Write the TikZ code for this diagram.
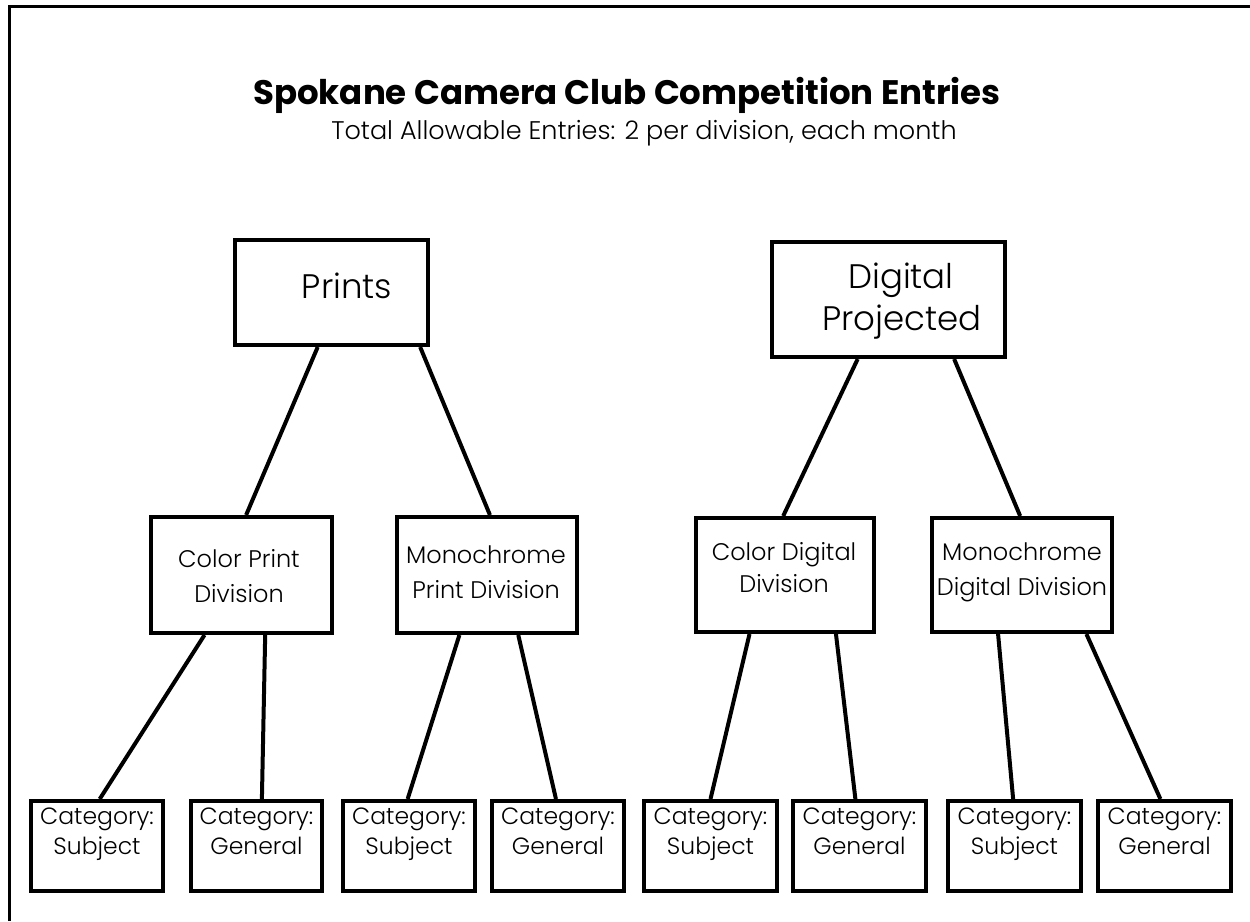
\documentclass[tikz,border=0pt]{standalone}
\usepackage{fontspec}
\setmainfont{Poppins Light}[BoldFont={Poppins Bold}]
\usetikzlibrary{calc,fit}
\begin{document}
\begin{tikzpicture}[x=1pt,y=-1pt,
  box/.style={draw, line width=4pt, inner sep=0pt},
  conn/.style={line width=4pt},
  txt/.style={anchor=base, inner sep=0pt},
  big/.style={txt, font=\fontsize{34}{40}\selectfont},
  mid/.style={txt, font=\fontsize{24}{28}\selectfont},
  cat/.style={txt, font=\fontsize{23.5}{28}\selectfont}]
\useasboundingbox (0,0) rectangle (1250,921);
\draw[line width=3pt] (9.5,921) -- (9.5,6.5) -- (1250,6.5);
% title
\node[txt, font=\fontsize{34}{40}\selectfont\bfseries] (title) at (627,104) {Spokane Camera Club Competition Entries};
\node[txt, font=\fontsize{25.5}{30}\selectfont] (subtitle) at (644,139) {Total Allowable Entries: 2 per division, each month};
% boxes
\node[box, fit={(235,240) (428,345)}] (prints) {};
\node[box, fit={(772,242) (1005,357)}] (digital) {};
\node[box, fit={(151,517) (332,633)}] (cpd) {};
\node[box, fit={(397,517) (577,633)}] (mpd) {};
\node[box, fit={(696,518) (874,632)}] (cdd) {};
\node[box, fit={(932,518) (1112,632)}] (mdd) {};
\node[box, fit={(31,801) (163,891)}] (c1) {};
\node[box, fit={(191,801) (322,891)}] (c2) {};
\node[box, fit={(343,801) (475,891)}] (c3) {};
\node[box, fit={(492,801) (624,891)}] (c4) {};
\node[box, fit={(644,801) (777,891)}] (c5) {};
\node[box, fit={(793,801) (926,891)}] (c6) {};
\node[box, fit={(948,801) (1081,891)}] (c7) {};
\node[box, fit={(1098,801) (1231,891)}] (c8) {};
% texts
\node[big] (tprints) at (347,298) {Prints};
\node[big] (tdig1) at (901,288) {Digital};
\node[big] (tdig2) at (902,330) {Projected};
\node[mid] (tcpd1) at (239,567) {Color Print};
\node[mid] (tcpd2) at (239,602) {Division};
\node[mid] (tmpd1) at (486,563) {Monochrome};
\node[mid] (tmpd2) at (486,598) {Print Division};
\node[mid] (tcdd1) at (784,560) {Color Digital};
\node[mid] (tcdd2) at (784,592) {Division};
\node[mid] (tmdd1) at (1022,560) {Monochrome};
\node[mid] (tmdd2) at (1022,595) {Digital Division};
\foreach \n/\w in {c1/Subject,c2/General,c3/Subject,c4/General,c5/Subject,c6/General,c7/Subject,c8/General}{
  \node[cat] (\n a) at ($(\n.north)+(0,25)$) {Category:};
  \node[cat] (\n b) at ($(\n.north)+(0,55)$) {\w};
}
% connectors
\draw[conn] ($(prints.south west)!0.43!(prints.south east)$) -- ($(cpd.north west)!0.525!(cpd.north east)$);
\draw[conn] ($(prints.south west)!0.95!(prints.south east)$) -- ($(mpd.north west)!0.516!(mpd.north east)$);
\draw[conn] ($(digital.south west)!0.37!(digital.south east)$) -- ($(cdd.north west)!0.49!(cdd.north east)$);
\draw[conn] ($(digital.south west)!0.777!(digital.south east)$) -- ($(mdd.north west)!0.49!(mdd.north east)$);
\draw[conn] ($(cpd.south west)!0.30!(cpd.south east)$) -- ($(c1.north west)!0.52!(c1.north east)$);
\draw[conn] ($(cpd.south west)!0.628!(cpd.south east)$) -- ($(c2.north west)!0.54!(c2.north east)$);
\draw[conn] ($(mpd.south west)!0.35!(mpd.south east)$) -- ($(c3.north west)!0.49!(c3.north east)$);
\draw[conn] ($(mpd.south west)!0.67!(mpd.south east)$) -- ($(c4.north west)!0.485!(c4.north east)$);
\draw[conn] ($(cdd.south west)!0.305!(cdd.south east)$) -- ($(c5.north west)!0.50!(c5.north east)$);
\draw[conn] ($(cdd.south west)!0.78!(cdd.south east)$) -- ($(c6.north west)!0.47!(c6.north east)$);
\draw[conn] ($(mdd.south west)!0.37!(mdd.south east)$) -- ($(c7.north west)!0.49!(c7.north east)$);
\draw[conn] ($(mdd.south west)!0.85!(mdd.south east)$) -- ($(c8.north west)!0.47!(c8.north east)$);
\end{tikzpicture}
\end{document}
